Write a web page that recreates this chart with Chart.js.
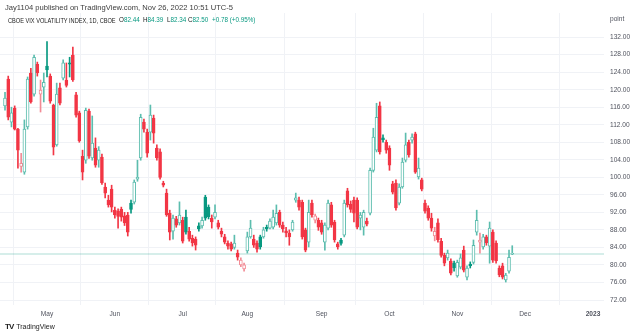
<!DOCTYPE html>
<html>
<head>
<meta charset="utf-8">
<script src="https://cdn.jsdelivr.net/npm/chart.js@4.4.0/dist/chart.umd.min.js"></script>
<style>
html, body { margin: 0; padding: 0; background: #fff; }
#wrap { position: relative; width: 640px; height: 336px; overflow: hidden; font-family: "Liberation Sans", Arial, sans-serif; }
#c { position: absolute; left: 0; top: 0; }
.t { position: absolute; white-space: nowrap; color: #131722; }
#pub { left: 5px; top: 3px; font-size: 7.6px; color: #3b3b3b; }
.h2 { top: 16.5px; font-size: 6.4px; color: #222; transform: scaleX(0.88); transform-origin: left center; }
.hv { top: 16px; font-size: 7px; color: #222; transform: scaleX(0.9); transform-origin: left center; }
.v { color: #089981; }
#logo { left: 5px; top: 322px; font-size: 7px; color: #222; }
#logo b { font-size: 8px; letter-spacing: -1px; margin-right: 3px; }
</style>
</head>
<body>
<div id="wrap">
  <canvas id="c" width="640" height="336"></canvas>
  <div class="t" id="pub">Jay1104 published on TradingView.com, Nov 26, 2022 10:51 UTC-5</div>
  <div class="t h2" style="left:8px">CBOE VIX VOLATILITY INDEX, 1D, CBOE</div>
  <div class="t hv" style="left:119px">O<span class="v">82.44</span></div>
  <div class="t hv" style="left:143px">H<span class="v">84.39</span></div>
  <div class="t hv" style="left:166.5px">L<span class="v">82.34</span></div>
  <div class="t hv" style="left:188px">C<span class="v">82.50</span></div>
  <div class="t hv" style="left:211.5px"><span class="v">+0.78 (+0.95%)</span></div>
  <div class="t" id="logo"><b>TV</b>TradingView</div>
</div>
<script>
// trading days (daily candles), the tail after Nov 25 is empty future space
var days = [
  '2022-04-12','2022-04-13','2022-04-14','2022-04-18','2022-04-19','2022-04-20','2022-04-21','2022-04-22','2022-04-25','2022-04-26','2022-04-27','2022-04-28','2022-04-29',
  '2022-05-02','2022-05-03','2022-05-04','2022-05-05','2022-05-06','2022-05-09','2022-05-10','2022-05-11','2022-05-12','2022-05-13','2022-05-16','2022-05-17','2022-05-18','2022-05-19','2022-05-20','2022-05-23','2022-05-24','2022-05-25','2022-05-26','2022-05-27','2022-05-31',
  '2022-06-01','2022-06-02','2022-06-03','2022-06-06','2022-06-07','2022-06-08','2022-06-09','2022-06-10','2022-06-13','2022-06-14','2022-06-15','2022-06-16','2022-06-17','2022-06-21','2022-06-22','2022-06-23','2022-06-24','2022-06-27','2022-06-28','2022-06-29','2022-06-30',
  '2022-07-01','2022-07-05','2022-07-06','2022-07-07','2022-07-08','2022-07-11','2022-07-12','2022-07-13','2022-07-14','2022-07-15','2022-07-18','2022-07-19','2022-07-20','2022-07-21','2022-07-22','2022-07-25','2022-07-26','2022-07-27','2022-07-28','2022-07-29',
  '2022-08-01','2022-08-02','2022-08-03','2022-08-04','2022-08-05','2022-08-08','2022-08-09','2022-08-10','2022-08-11','2022-08-12','2022-08-15','2022-08-16','2022-08-17','2022-08-18','2022-08-19','2022-08-22','2022-08-23','2022-08-24','2022-08-25','2022-08-26','2022-08-29','2022-08-30','2022-08-31',
  '2022-09-01','2022-09-02','2022-09-06','2022-09-07','2022-09-08','2022-09-09','2022-09-12','2022-09-13','2022-09-14','2022-09-15','2022-09-16','2022-09-19','2022-09-20','2022-09-21','2022-09-22','2022-09-23','2022-09-26','2022-09-27','2022-09-28','2022-09-29','2022-09-30',
  '2022-10-03','2022-10-04','2022-10-05','2022-10-06','2022-10-07','2022-10-10','2022-10-11','2022-10-12','2022-10-13','2022-10-14','2022-10-17','2022-10-18','2022-10-19','2022-10-20','2022-10-21','2022-10-24','2022-10-25','2022-10-26','2022-10-27','2022-10-28','2022-10-31',
  '2022-11-01','2022-11-02','2022-11-03','2022-11-04','2022-11-07','2022-11-08','2022-11-09','2022-11-10','2022-11-11','2022-11-14','2022-11-15','2022-11-16','2022-11-17','2022-11-18','2022-11-21','2022-11-22','2022-11-23','2022-11-25',
  '2022-11-28','2022-11-29','2022-11-30',
  '2022-12-01','2022-12-02','2022-12-05','2022-12-06','2022-12-07','2022-12-08','2022-12-09','2022-12-12','2022-12-13','2022-12-14','2022-12-15','2022-12-16','2022-12-19','2022-12-20','2022-12-21','2022-12-22','2022-12-23','2022-12-27','2022-12-28','2022-12-29','2022-12-30',
  '2023-01-03','2023-01-04','2023-01-05','2023-01-06'
];

var opens = [116.3,122.4,112.6,115.8,111.0,102.5,101.2,111.5,123.8,119.0,125.8,119.0,120.6,
  125.4,123.1,116.5,107.4,120.4,122.6,122.2,126.1,127.9,118.8,114.7,104.8,103.9,115.1,104.4,106.7,103.9,104.6,97.8,94.8,97.3,
  92.5,92.3,92.7,91.2,91.4,94.1,94.3,99.6,104.4,112.6,110.3,110.3,113.5,106.7,105.8,98.7,96.4,91.8,87.7,90.5,89.6,
  90.2,90.9,87.7,86.1,85.9,88.9,88.9,95.5,93.2,90.7,90.9,89.6,87.7,86.4,85.0,84.8,84.0,82.7,80.0,79.1,
  83.2,86.4,85.9,85.0,86.4,86.4,88.6,88.4,88.6,89.6,92.0,89.1,87.8,87.3,88.0,94.8,94.8,94.3,88.0,85.2,94.1,90.2,90.2,
  89.6,85.2,88.4,93.7,89.8,84.8,85.7,86.8,96.9,93.9,94.8,94.8,90.7,88.6,90.0,91.8,101.6,106.2,116.3,109.0,108.0,
  106.7,98.5,98.7,94.1,97.8,103.9,108.0,108.5,109.9,100.1,99.4,94.1,93.0,90.7,86.6,89.6,85.4,82.2,81.6,80.9,80.4,
  77.5,79.5,83.4,77.2,80.2,80.6,87.5,85.2,84.1,86.4,84.3,87.5,85.0,79.3,79.8,76.6,78.6,82.44];
var highs = [119.4,123.1,116.0,116.3,111.2,105.5,113.1,122.9,124.9,127.9,126.3,122.2,123.8,
  131.0,123.6,116.7,121.5,121.5,126.8,126.1,127.4,129.7,119.4,115.1,106.2,115.8,115.6,114.0,109.0,107.0,105.3,98.7,95.9,98.2,
  93.2,92.8,93.2,92.0,92.0,94.8,99.4,103.9,114.4,113.3,111.0,116.5,114.2,107.4,106.5,99.1,97.3,92.5,91.4,91.1,94.4,
  90.9,92.5,88.6,86.8,86.4,89.6,90.9,95.9,93.7,91.4,93.7,90.2,88.4,87.0,85.5,85.2,86.8,83.4,81.6,80.4,
  87.5,90.2,86.8,85.5,86.8,88.6,89.1,90.5,92.5,93.7,92.5,89.8,88.6,88.0,90.2,96.4,95.5,94.8,88.4,94.8,94.8,91.6,90.7,
  90.2,89.6,94.8,94.3,90.2,85.2,86.1,94.8,97.5,94.6,95.5,95.3,92.0,92.5,90.7,102.1,111.2,116.9,117.2,109.7,108.5,
  107.2,99.1,99.4,98.5,104.4,110.1,108.5,109.9,110.3,104.4,99.8,94.8,93.5,91.8,88.6,90.5,86.1,82.7,83.4,81.4,80.9,
  81.1,82.5,84.3,79.8,80.7,85.7,92.5,87.3,87.0,86.8,89.8,88.0,85.5,79.8,80.4,78.1,83.4,84.39];
var lows = [115.3,113.1,111.5,110.8,102.1,101.2,100.7,111.0,116.9,118.5,123.1,114.9,117.2,
  122.9,116.9,105.1,107.1,116.5,122.2,120.6,122.9,121.9,113.7,108.0,99.4,103.2,104.3,103.9,102.3,102.3,98.4,95.3,93.2,92.1,
  90.7,88.4,90.0,89.0,86.6,91.8,93.9,99.1,103.9,110.3,104.6,108.5,107.8,103.9,99.6,97.8,91.1,85.7,85.9,88.6,89.1,
  85.0,87.0,85.4,84.3,83.4,87.7,88.4,90.2,90.5,88.4,90.5,88.2,86.4,84.8,83.6,83.2,83.6,81.1,79.6,78.6,
  82.7,86.1,84.0,82.9,83.6,86.1,87.7,88.2,88.2,89.1,88.6,87.5,86.4,84.5,87.7,94.3,92.5,85.9,83.0,84.1,90.9,89.6,87.9,
  87.0,83.4,88.0,88.6,85.2,83.6,84.5,86.4,93.2,92.0,89.8,88.2,88.0,86.8,88.9,91.4,101.2,105.8,105.3,108.0,105.5,
  101.6,96.2,92.5,93.7,97.5,103.5,104.6,107.8,100.9,99.6,96.9,91.8,90.2,87.7,85.5,85.2,81.8,79.8,81.1,77.7,78.6,
  77.2,79.1,78.4,76.6,79.3,80.2,86.8,82.7,83.6,84.5,80.4,80.6,80.4,77.3,76.8,76.1,78.1,82.34];
var closes = [118.1,113.7,114.7,111.0,106.2,103.2,111.0,122.4,117.2,127.4,123.8,119.9,121.7,
  124.5,117.4,106.9,119.0,116.9,126.1,121.0,125.8,122.2,114.2,108.3,101.2,115.3,104.8,107.8,102.8,106.2,98.7,96.4,93.7,93.2,
  91.4,91.1,90.9,89.6,87.5,92.7,98.9,100.0,113.7,111.0,105.5,114.2,110.1,104.4,100.0,98.2,91.4,87.5,90.7,89.1,91.4,
  85.4,87.5,85.9,85.0,84.5,88.2,90.2,90.7,91.0,89.8,92.0,88.6,87.0,85.2,84.3,83.6,85.0,81.8,81.1,80.0,
  86.4,88.4,84.5,83.6,84.1,88.0,88.2,90.0,90.9,91.8,89.1,88.2,87.3,86.4,89.8,95.3,93.2,86.4,83.4,92.0,91.4,91.2,88.6,
  87.5,89.1,94.1,89.1,85.7,84.1,84.9,94.1,93.7,92.7,91.8,88.6,91.4,92.0,89.3,101.6,109.2,113.7,105.8,108.6,106.2,
  102.8,96.6,93.0,97.8,103.5,107.4,105.1,109.2,101.2,102.1,97.3,92.3,90.7,88.4,87.7,85.7,82.2,80.4,82.7,78.1,79.3,
  80.6,81.6,78.8,79.3,79.8,84.5,90.2,85.7,86.4,85.0,88.4,81.1,80.9,77.7,77.2,77.7,81.72,82.50];

var monthLabels = ['May', 'Jun', 'Jul', 'Aug', 'Sep', 'Oct', 'Nov', 'Dec', '2023'];
var priceTicks = [72, 76, 80, 84, 88, 92, 96, 100, 104, 108, 112, 116, 120, 124, 128, 132, 136];
var unitLabel = 'point';
var lastClose = closes[closes.length - 1];

// view window (in bar index units)
var xMin = -1.55, xMax = 185.4;
var yMin = 70.86, yMax = 137.5;

var GREEN = '#089981', GREEN_HOLLOW = '#5cbdae', RED = '#f23645', RED_HOLLOW = '#f28b95';

// first bar of each month -> tick
var monthStarts = [];
for (var i = 1; i < days.length; i++) {
  if (days[i].slice(0, 7) !== days[i - 1].slice(0, 7)) monthStarts.push(i);
}
var yearStart = monthStarts[monthStarts.length - 1];

var wicks = [], bodies = [], wickColors = [], bodyFill = [], bodyLine = [];
for (var i = 0; i < closes.length; i++) {
  var prev = i > 0 ? closes[i - 1] : opens[i];
  var up = closes[i] >= prev;
  var hollow = closes[i] >= opens[i];
  var col = up ? (hollow ? GREEN_HOLLOW : GREEN) : (hollow ? RED_HOLLOW : RED);
  wicks.push({ x: i, y: [lows[i], highs[i]] });
  bodies.push({ x: i, y: [opens[i], closes[i]] });
  wickColors.push(col);
  bodyLine.push(col);
  bodyFill.push(hollow ? '#ffffff' : col);
}

var FONT = '"Liberation Sans", Arial, sans-serif';

new Chart(document.getElementById('c').getContext('2d'), {
  type: 'bar',
  data: {
    datasets: [
      {
        type: 'line',
        data: [{ x: xMin, y: lastClose }, { x: xMax, y: lastClose }],
        borderColor: 'rgba(8,153,129,0.22)',
        borderWidth: 1.5,
        pointRadius: 0,
        order: 3
      },
      {
        data: wicks,
        backgroundColor: wickColors,
        barThickness: 1,
        grouped: false,
        order: 2
      },
      {
        data: bodies,
        backgroundColor: bodyFill,
        borderColor: bodyLine,
        borderWidth: 1,
        borderSkipped: false,
        barThickness: 3,
        minBarLength: 1,
        grouped: false,
        order: 1
      }
    ]
  },
  options: {
    responsive: false,
    animation: false,
    layout: { padding: { top: 13, left: 0, right: 0, bottom: 0 } },
    plugins: { legend: { display: false }, tooltip: { enabled: false } },
    scales: {
      x: {
        type: 'linear',
        min: xMin,
        max: xMax,
        offset: false,
        afterBuildTicks: function (s) { s.ticks = monthStarts.map(function (v) { return { value: v }; }); },
        afterFit: function (s) { s.height = 31; },
        grid: { color: '#f0f2f6', drawTicks: false },
        border: { display: false },
        ticks: {
          autoSkip: false,
          maxRotation: 0,
          padding: 5,
          color: '#50535e',
          font: function (c) {
            return { family: FONT, size: 6.6, weight: (c.tick && c.tick.value === yearStart) ? 'bold' : 'normal' };
          },
          callback: function (v) { var k = monthStarts.indexOf(v); return k >= 0 ? monthLabels[k] : ''; }
        }
      },
      y: {
        position: 'right',
        min: yMin,
        max: yMax,
        afterBuildTicks: function (s) { s.ticks = priceTicks.map(function (v) { return { value: v }; }); },
        afterFit: function (s) { s.width = 36; },
        grid: {
          drawTicks: false,
          color: function (c) { return (c.tick && c.tick.value === 136) ? 'rgba(0,0,0,0)' : '#f0f2f6'; }
        },
        border: { display: false },
        ticks: {
          padding: 6,
          color: '#50535e',
          font: { family: FONT, size: 6.6 },
          callback: function (v) { return v === 136 ? unitLabel : v.toFixed(2); }
        }
      }
    }
  }
});
</script>
</body>
</html>
